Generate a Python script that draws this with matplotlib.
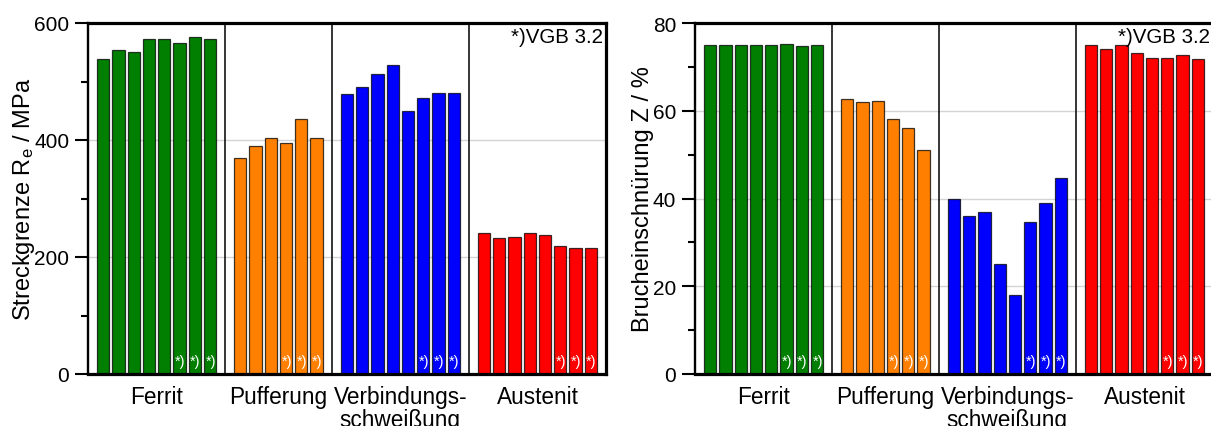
import numpy as np
import matplotlib
matplotlib.use("Agg")
import matplotlib.pyplot as plt
from matplotlib.ticker import MultipleLocator
import matplotlib.transforms as mtransforms

plt.rcParams['font.family'] = ['Liberation Sans', 'DejaVu Sans']
plt.rcParams['mathtext.default'] = 'regular'

# ---------------- data ----------------
categories = ['Ferrit', 'Pufferung', 'Verbindungs-\nschweißung', 'Austenit']
colors = ['#007F00', '#FF8000', '#0000FF', '#FF0000']

re_ferrit = [538, 554, 551, 573, 573, 566, 576, 573]
re_puffer = [369, 390, 403, 395, 436, 403]
re_verb = [479, 491, 512, 528, 449, 472, 480, 480]
re_aust = [241, 232, 234, 241, 238, 218, 216, 215]

z_ferrit = [75.0, 75.0, 75.0, 75.0, 75.0, 75.3, 74.7, 75.0]
z_puffer = [62.7, 62.1, 62.3, 58.1, 56.0, 51.0]
z_verb = [40.0, 36.1, 37.0, 25.0, 18.0, 34.7, 38.9, 44.6]
z_aust = [75.0, 74.0, 75.0, 73.1, 72.0, 72.0, 72.8, 71.8]

vgb_last = 3          # last bars of each group marked "*)"
note_text = '*)VGB 3.2'

re_label = 'Streckgrenze R$_{e}$ / MPa'
z_label = 'Brucheinschnürung Z / %'

W, H = 1211, 427
fig = plt.figure(figsize=(W / 100, H / 100), dpi=100)

def draw(ax, groups, ylim, major, minor, ylabel, lblx):
    start = 1
    centers = []
    seps = []
    trans = mtransforms.blended_transform_factory(ax.transData, ax.transAxes)
    for vals, col in zip(groups, colors):
        pos = start + np.arange(len(vals))
        ax.bar(pos, vals, width=0.8, color=col, edgecolor=(0, 0, 0, 0.75),
               linewidth=0.9, zorder=2)
        for p in pos[-vgb_last:]:
            ax.text(p + 0.05, 0.036, '*)', transform=trans, color='white',
                    fontsize=10.5, ha='center', va='center', zorder=3)
        centers.append(pos.mean())
        seps.append(pos[-1] + 1)
        start = pos[-1] + 2
    for s in seps[:-1]:
        ax.axvline(s, color='black', lw=1.1, zorder=3)
    ax.set_xlim(0, start - 1)
    ax.set_ylim(*ylim)
    ax.yaxis.set_major_locator(MultipleLocator(major))
    ax.yaxis.set_minor_locator(MultipleLocator(minor))
    ax.grid(axis='y', which='major', color='#d4d4d4', lw=1.0, zorder=0)
    ax.set_axisbelow(True)
    ax.set_xticks(centers)
    ax.set_xticklabels(categories, fontsize=16.3, linespacing=1.0)
    ax.tick_params(axis='x', length=0, pad=8)
    ax.tick_params(axis='y', which='major', length=9.5, width=1.5,
                   labelsize=15, pad=4, direction='out')
    ax.tick_params(axis='y', which='minor', length=5, width=1.5, direction='out')
    for side in ['top', 'bottom', 'right']:
        ax.spines[side].set_linewidth(2.3)
    ax.spines['left'].set_linewidth(1.7)
    ax.set_ylabel(ylabel, fontsize=17)
    ax.yaxis.set_label_coords(lblx, 0.5)
    ax.text(1 - 3 / 518, 1 - 4 / 351, note_text, transform=ax.transAxes,
            ha='right', va='top', fontsize=14.8, zorder=4)

ax1 = fig.add_axes([88 / W, (H - 375) / H, 518 / W, 351 / H])
draw(ax1, [re_ferrit, re_puffer, re_verb, re_aust], (0, 600), 200, 100,
     re_label, -0.099)

ax2 = fig.add_axes([695 / W, (H - 375) / H, 518 / W, 351 / H])
draw(ax2, [z_ferrit, z_puffer, z_verb, z_aust], (0, 80), 20, 10,
     z_label, -0.08)

fig.savefig('out.png', dpi=100)
